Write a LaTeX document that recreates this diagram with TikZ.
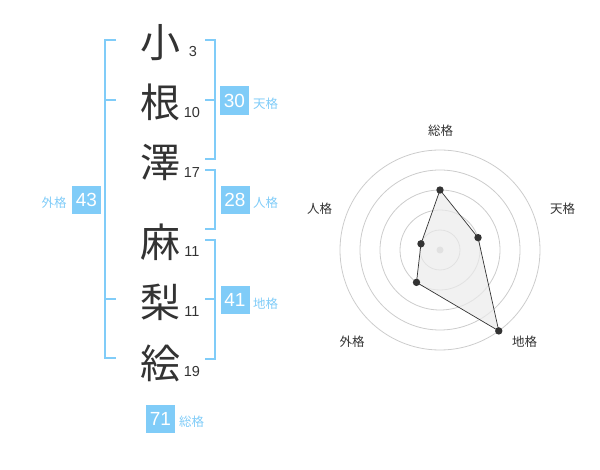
\documentclass[tikz,border=0pt]{standalone}
\usepackage{fontspec}
\setmainfont{Liberation Sans}
\newfontfamily\jp{Noto Sans CJK JP}
\definecolor{sky}{RGB}{128,204,248}
\definecolor{ink}{RGB}{51,51,51}
\definecolor{ring}{RGB}{204,204,204}
\begin{document}
\begin{tikzpicture}[x=1pt,y=-1pt,
  kanji/.style={anchor=base,inner sep=0,text=ink,font=\jp\fontsize{40}{40}\selectfont},
  strokes/.style={anchor=base,inner sep=0,text=ink,font=\fontsize{14.5}{14.5}\selectfont},
  valbox/.style={fill=sky,text=white,inner sep=0,minimum width=29pt,minimum height=28.5pt,font=\fontsize{19}{19}\selectfont},
  kaku/.style={anchor=base west,inner sep=0,text=sky,font=\jp\fontsize{12.5}{12.5}\selectfont},
  axislabel/.style={anchor=base,inner sep=0,text=ink,font=\jp\fontsize{12.5}{12.5}\selectfont},
  bracket/.style={draw=sky,line width=2pt},
  ringline/.style={draw=ring,line width=0.8pt},
  dot/.style={circle,fill=ink,inner sep=0,minimum size=7.4pt}]
\useasboundingbox (0,0) rectangle (600,470);
% name characters
\node[kanji] (k1) at (160,58) {小};
\node[kanji] (k2) at (160,118) {根};
\node[kanji] (k3) at (160,178) {澤};
\node[kanji] (k4) at (160,258) {麻};
\node[kanji] (k5) at (160,318) {梨};
\node[kanji] (k6) at (160,378) {絵};
\node[strokes] (s1) at (193,57) {3};
\node[strokes] (s2) at (192,118) {10};
\node[strokes] (s3) at (192,178) {17};
\node[strokes] (s4) at (192,257) {11};
\node[strokes] (s5) at (192,317) {11};
\node[strokes] (s6) at (192,377) {19};
% brackets
\draw[bracket] (116,40) -- (105,40) -- (105,358) -- (116,358);
\draw[bracket] (105,100) -- (116,100);
\draw[bracket] (105,299) -- (116,299);
\draw[bracket] (205,40) -- (215,40) -- (215,159) -- (205,159);
\draw[bracket] (205,100) -- (215,100);
\draw[bracket] (205,170) -- (215,170) -- (215,229) -- (205,229);
\draw[bracket] (205,240) -- (215,240) -- (215,359) -- (205,359);
\draw[bracket] (205,299) -- (215,299);
% value boxes
\node[valbox] (ten) at (234.5,100.5) {30};
\node[valbox] (jin) at (235,200) {28};
\node[valbox] (chi) at (235,300) {41};
\node[valbox] (gai) at (86.5,200) {43};
\node[valbox] (sou) at (160.5,419) {71};
\node[kaku] (tenl) at (253,108.5) {天格};
\node[kaku] (jinl) at (253,207.5) {人格};
\node[kaku] (chil) at (253,308.5) {地格};
\node[kaku] (gail) at (41.5,207.5) {外格};
\node[kaku] (soul) at (179,426.5) {総格};
% radar chart
\coordinate (c) at (440,250);
\foreach \r in {20,40,60,80,100} \draw[ringline] (c) circle[radius=\r];
\coordinate (pS) at (440,190);
\coordinate (pT) at (478.04,237.64);
\coordinate (pC) at (498.78,330.90);
\coordinate (pG) at (416.49,282.36);
\coordinate (pJ) at (420.98,243.82);
\fill[ring] (c) circle[radius=3.5];
\draw[draw=ink,line width=0.7pt,fill=black!8,fill opacity=0.7] (pS) -- (pT) -- (pC) -- (pG) -- (pJ) -- cycle;
\foreach \p in {pS,pT,pC,pG,pJ} \node[dot] (d\p) at (\p) {};
\node[axislabel] (aS) at (440.5,135.5) {総格};
\node[axislabel] (aT) at (562.5,213.5) {天格};
\node[axislabel] (aJ) at (319.5,213.5) {人格};
\node[axislabel] (aG) at (352,346.5) {外格};
\node[axislabel] (aC) at (524.5,346.5) {地格};
\end{tikzpicture}
\end{document}
